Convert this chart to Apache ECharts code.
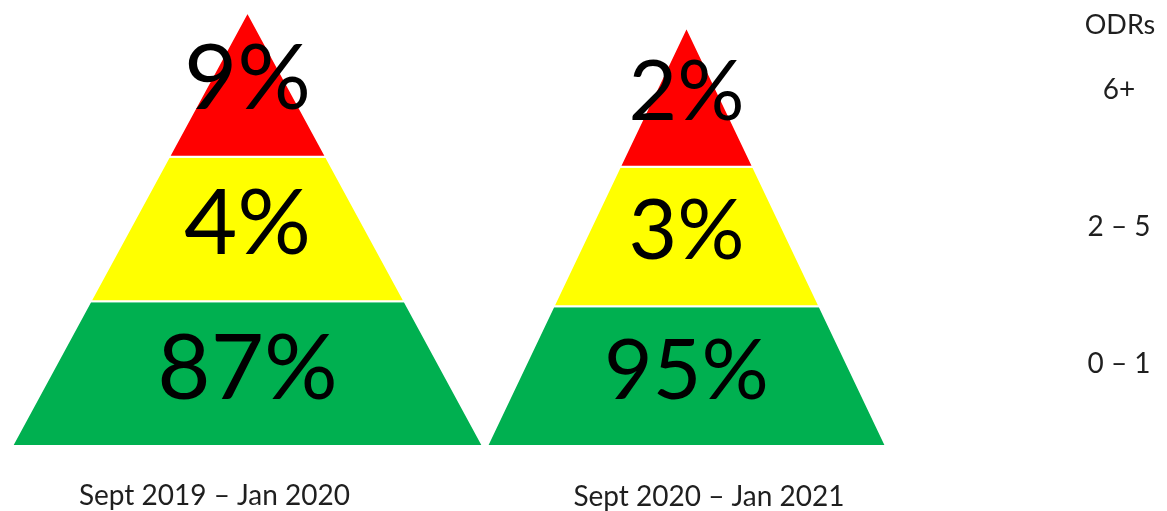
<!DOCTYPE html>
<html>
<head>
<meta charset="utf-8">
<script src="https://cdn.jsdelivr.net/npm/echarts@6/dist/echarts.min.js"></script>
<style>
  html, body { margin: 0; padding: 0; background: #ffffff; }
  #chart { width: 1167px; height: 511px; }
</style>
</head>
<body>
<div id="chart"></div>
<script>
// ODR bands, listed from the base of each pyramid up to its tip
const odrBands = ['0 – 1', '2 – 5', '6+'];
const periods = ['Sept 2019 – Jan 2020', 'Sept 2020 – Jan 2021'];
// Share of students (%) falling in each ODR band
const share2019 = [87, 4, 9];
const share2020 = [95, 3, 2];

const bandColors = ['#00B050', '#FFFF00', '#FF0000'];
const FONT = 'Lato, "Open Sans", sans-serif';
const TEXT = '#1f1f1f';

// One pyramid: each tier is a slice of a triangle whose base spans x = -1..1
// and whose tip sits at the top of the grid (y = number of tiers).
function pyramidSeries(idx, values, fontSize) {
  const n = odrBands.length;
  return {
    type: 'custom',
    name: periods[idx],
    coordinateSystem: 'cartesian2d',
    xAxisIndex: idx,
    yAxisIndex: idx,
    data: values.map((v, i) => [i, v]),
    renderItem(params, api) {
      const i = api.value(0);
      const v = api.value(1);
      const halfLow = (n - i) / n;
      const halfHigh = (n - i - 1) / n;
      const pts = [
        api.coord([-halfLow, i]),
        api.coord([halfLow, i]),
        api.coord([halfHigh, i + 1]),
        api.coord([-halfHigh, i + 1])
      ];
      const c = api.coord([0, i + 0.5]);
      return {
        type: 'group',
        children: [
          {
            type: 'polygon',
            shape: { points: pts },
            style: { fill: bandColors[i], stroke: '#ffffff', lineWidth: 2 }
          },
          {
            type: 'text',
            x: c[0],
            y: c[1] - fontSize * 0.05,
            style: {
              text: v + '%',
              fill: '#000000',
              fontSize: fontSize,
              fontFamily: FONT,
              align: 'center',
              verticalAlign: 'middle'
            }
          }
        ]
      };
    }
  };
}

function hiddenValueAxis(gridIndex, min, max, extra) {
  return Object.assign({
    type: 'value',
    gridIndex: gridIndex,
    min: min,
    max: max,
    axisLine: { show: false },
    axisTick: { show: false },
    axisLabel: { show: false },
    splitLine: { show: false }
  }, extra || {});
}

const chart = echarts.init(document.getElementById('chart'), null, { renderer: 'canvas' });

chart.setOption({
  backgroundColor: '#ffffff',
  animation: false,
  title: {
    text: 'ODRs',
    left: 1115,
    top: 7,
    textAlign: 'center',
    textStyle: { fontFamily: FONT, fontSize: 27, fontWeight: 'normal', color: TEXT }
  },
  grid: [
    { left: 12, top: 12, width: 471, height: 434, outerBoundsMode: 'none' },
    { left: 487, top: 27, width: 399, height: 419, outerBoundsMode: 'none' },
    { left: 1119, top: 22, width: 1, height: 410, outerBoundsMode: 'none' }
  ],
  xAxis: [
    hiddenValueAxis(0, -1, 1, {
      name: periods[0],
      nameLocation: 'middle',
      nameGap: 36,
      nameTextStyle: { fontFamily: FONT, fontSize: 28, color: TEXT, padding: [0, 66, 0, 0] }
    }),
    hiddenValueAxis(1, -1, 1, {
      name: periods[1],
      nameLocation: 'middle',
      nameGap: 37,
      nameTextStyle: { fontFamily: FONT, fontSize: 28, color: TEXT, padding: [0, 0, 0, 45] }
    }),
    hiddenValueAxis(2, 0, 1, { show: false })
  ],
  yAxis: [
    hiddenValueAxis(0, 0, odrBands.length),
    hiddenValueAxis(1, 0, odrBands.length),
    {
      type: 'category',
      gridIndex: 2,
      data: odrBands,
      axisLine: { show: false },
      axisTick: { show: false },
      splitLine: { show: false },
      axisLabel: {
        margin: 0,
        align: 'center',
        fontFamily: FONT,
        fontSize: 28,
        color: TEXT
      }
    }
  ],
  series: [
    pyramidSeries(0, share2019, 92),
    pyramidSeries(1, share2020, 84)
  ]
});
</script>
</body>
</html>
